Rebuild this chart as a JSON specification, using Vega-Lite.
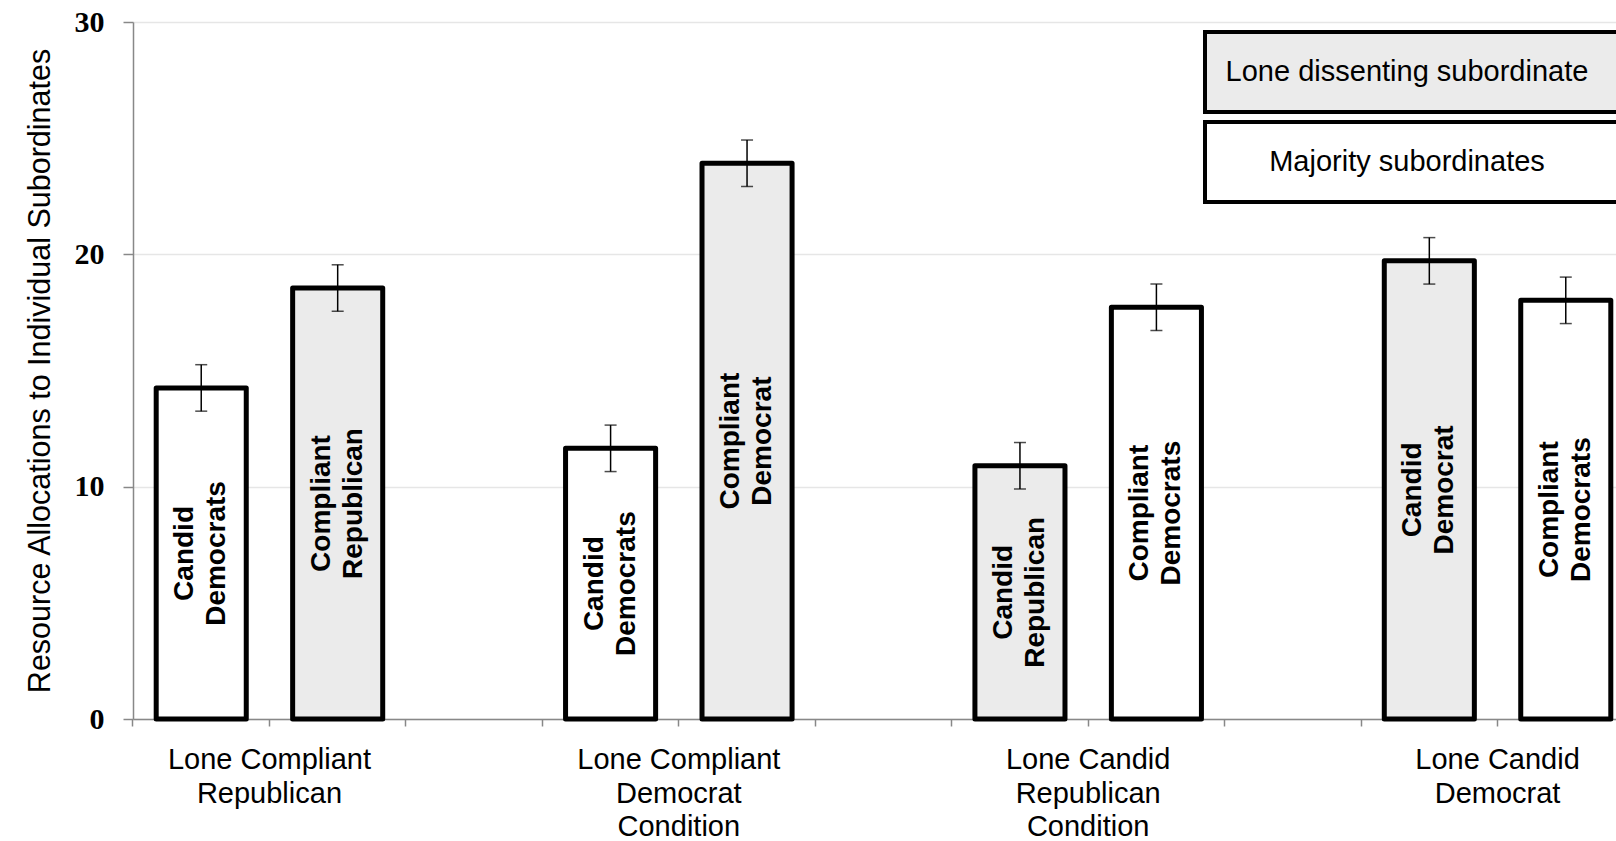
{
  "$schema": "https://vega.github.io/schema/vega-lite/v6.json",
  "width": 1483,
  "height": 697,
  "autosize": {"type": "none"},
  "padding": {"left": 133, "top": 22, "right": 0, "bottom": 122},
  "background": "white",
  "config": {"view": {"stroke": null}, "font": "Liberation Sans"},
  "datasets": {
    "bars": [
      {"slot": "s1", "label": "Candid\nDemocrats", "group": "Majority subordinates", "value": 14.25, "err": 1.0},
      {"slot": "s2", "label": "Compliant\nRepublican", "group": "Lone dissenting subordinate", "value": 18.55, "err": 1.0},
      {"slot": "s4", "label": "Candid\nDemocrats", "group": "Majority subordinates", "value": 11.65, "err": 1.0},
      {"slot": "s5", "label": "Compliant\nDemocrat", "group": "Lone dissenting subordinate", "value": 23.92, "err": 1.0},
      {"slot": "s7", "label": "Candid\nRepublican", "group": "Lone dissenting subordinate", "value": 10.9, "err": 1.0},
      {"slot": "s8", "label": "Compliant\nDemocrats", "group": "Majority subordinates", "value": 17.72, "err": 1.0},
      {"slot": "s10", "label": "Candid\nDemocrat", "group": "Lone dissenting subordinate", "value": 19.72, "err": 1.0},
      {"slot": "s11", "label": "Compliant\nDemocrats", "group": "Majority subordinates", "value": 18.02, "err": 1.0}
    ],
    "groups": [
      {"slot": "s2", "condition": "Lone Compliant\nRepublican"},
      {"slot": "s5", "condition": "Lone Compliant\nDemocrat\nCondition"},
      {"slot": "s8", "condition": "Lone Candid\nRepublican\nCondition"},
      {"slot": "s11", "condition": "Lone Candid\nDemocrat"}
    ]
  },
  "layer": [
    {
      "data": {"name": "bars"},
      "mark": {"type": "bar", "width": {"band": 0.66}, "stroke": "black", "strokeWidth": 5, "strokeJoin": "round"},
      "encoding": {
        "x": {
          "field": "slot", "type": "nominal",
          "scale": {"domain": ["s1","s2","s3","s4","s5","s6","s7","s8","s9","s10","s11"], "range": [0, 1501], "paddingInner": 0, "paddingOuter": 0},
          "axis": {"labels": false, "title": null, "grid": false, "bandPosition": 0, "domainColor": "#888888", "domainWidth": 1.5, "tickColor": "#888888", "tickWidth": 1.5, "tickSize": 7}
        },
        "y": {
          "field": "value", "type": "quantitative",
          "title": "Resource Allocations to Individual Subordinates",
          "scale": {"domain": [0, 30]},
          "axis": {"values": [0, 10, 20, 30], "grid": true, "gridColor": "#e6e6e6", "gridWidth": 1.5, "domainColor": "#888888", "domainWidth": 1.5, "tickColor": "#888888", "tickWidth": 1.5, "tickSize": 10, "labelFont": "Liberation Serif", "labelFontSize": 30, "labelFontWeight": "bold", "labelColor": "black", "labelPadding": 19, "labelFlush": false, "titleFont": "Liberation Sans", "titleFontSize": 30.5, "titleFontWeight": "normal", "titleColor": "black", "titlePadding": 19}
        },
        "fill": {
          "field": "group", "type": "nominal",
          "scale": {"domain": ["Lone dissenting subordinate", "Majority subordinates"], "range": ["#ebebeb", "#ffffff"]},
          "legend": {"orient": "none", "legendX": 1070, "legendY": 8, "title": null, "symbolType": "M-1,-1H9.45V1H-1Z", "symbolSize": 6400, "symbolStrokeColor": "black", "symbolStrokeWidth": 4, "symbolOpacity": 1, "labelFont": "Liberation Sans", "labelFontSize": 29, "labelColor": "black", "labelAlign": "center", "labelOffset": 120, "labelLimit": 0, "rowPadding": -6}
        }
      }
    },
    {
      "data": {"name": "bars"},
      "mark": {"type": "errorbar", "ticks": {"size": 12, "thickness": 1.5, "color": "black"}, "rule": {"strokeWidth": 1.5, "color": "black"}, "color": "black"},
      "encoding": {
        "x": {"field": "slot", "type": "nominal"},
        "y": {"field": "value", "type": "quantitative", "title": "Resource Allocations to Individual Subordinates"},
        "yError": {"field": "err"}
      }
    },
    {
      "data": {"name": "bars"},
      "transform": [{"calculate": "datum.value / 2", "as": "mid"}],
      "mark": {"type": "text", "angle": 270, "font": "Liberation Sans", "fontSize": 28, "fontWeight": "bold", "lineBreak": "\n", "lineHeight": 32, "align": "center", "baseline": "middle", "dy": -16, "color": "black"},
      "encoding": {
        "x": {"field": "slot", "type": "nominal"},
        "y": {"field": "mid", "type": "quantitative", "title": "Resource Allocations to Individual Subordinates"},
        "text": {"field": "label"}
      }
    },
    {
      "data": {"name": "groups"},
      "mark": {"type": "text", "font": "Liberation Sans", "fontSize": 29, "lineBreak": "\n", "lineHeight": 33.5, "align": "center", "baseline": "alphabetic", "dy": 50, "color": "black"},
      "encoding": {
        "x": {"field": "slot", "type": "nominal", "bandPosition": 0},
        "y": {"datum": 0, "type": "quantitative"},
        "text": {"field": "condition"}
      }
    }
  ]
}
